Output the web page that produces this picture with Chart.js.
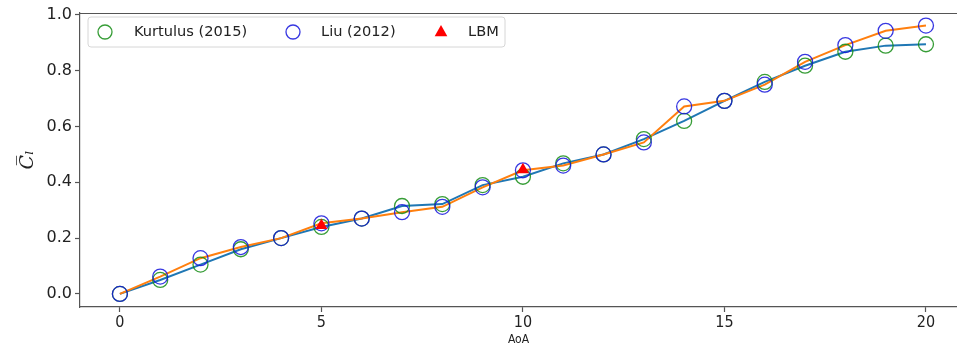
<!DOCTYPE html>
<html>
<head>
<meta charset="utf-8">
<script src="https://cdn.jsdelivr.net/npm/chart.js@4/dist/chart.umd.min.js"></script>
<style>
  html, body { margin: 0; padding: 0; background: #fff; overflow: hidden; }
  #wrap { width: 957px; height: 350px; position: relative; }
</style>
</head>
<body>
<div id="wrap"><canvas id="c"></canvas></div>
<script>
// ---- data ----
const aoa = [0, 1, 2, 3, 4, 5, 6, 7, 8, 9, 10, 11, 12, 13, 14, 15, 16, 17, 18, 19, 20];
const kurtulus = [0.0, 0.05, 0.105, 0.16, 0.20, 0.24, 0.27, 0.315, 0.322, 0.39, 0.42, 0.468, 0.50, 0.555, 0.62, 0.692, 0.76, 0.818, 0.868, 0.89, 0.895];
const liu = [0.0, 0.062, 0.128, 0.168, 0.20, 0.253, 0.27, 0.293, 0.312, 0.382, 0.443, 0.46, 0.50, 0.543, 0.672, 0.692, 0.75, 0.832, 0.892, 0.943, 0.962];
const lbmAoA = [10, 5];
const lbm = [0.445, 0.245];
const xTicks = [0, 5, 10, 15, 20];
const yTicks = [0.0, 0.2, 0.4, 0.6, 0.8, 1.0];
const seriesLabels = ['Kurtulus (2015)', 'Liu (2012)', 'LBM'];
const xTitle = 'AoA';
const yTitle = 'C\u0305\u2097';

const pts = (xs, ys) => xs.map((x, i) => ({x: x, y: ys[i]}));

const AXIS = '#555555';
const TXT = '#222222';

const legendPlugin = {
  id: 'insideLegend',
  afterDatasetsDraw(chart) {
    const ctx = chart.ctx;
    const bx = 88, by = 17, bw = 417, bh = 30, r = 3;
    ctx.save();
    ctx.beginPath();
    ctx.moveTo(bx + r, by);
    ctx.arcTo(bx + bw, by, bx + bw, by + bh, r);
    ctx.arcTo(bx + bw, by + bh, bx, by + bh, r);
    ctx.arcTo(bx, by + bh, bx, by, r);
    ctx.arcTo(bx, by, bx + bw, by, r);
    ctx.closePath();
    ctx.fillStyle = 'rgba(255,255,255,0.85)';
    ctx.fill();
    ctx.strokeStyle = '#d6d6d6';
    ctx.lineWidth = 1;
    ctx.stroke();
    const cy = by + bh / 2;
    const items = [
      {ds: 2, mx: 105, tx: 134},
      {ds: 3, mx: 293, tx: 321},
      {ds: 4, mx: 441, tx: 468}
    ];
    ctx.font = '14.6px "DejaVu Sans"';
    ctx.textBaseline = 'middle';
    ctx.textAlign = 'left';
    items.forEach(it => {
      const d = chart.data.datasets[it.ds];
      ctx.fillStyle = TXT;
      ctx.fillText(d.label, it.tx, cy);
      ctx.lineWidth = 1.3;
      if (d.pointStyle === 'triangle') {
        ctx.fillStyle = d.pointBackgroundColor;
        ctx.beginPath();
        const s = 7;
        ctx.moveTo(it.mx, cy - s);
        ctx.lineTo(it.mx + s * 0.9, cy + s * 0.6);
        ctx.lineTo(it.mx - s * 0.9, cy + s * 0.6);
        ctx.closePath();
        ctx.fill();
      } else {
        ctx.strokeStyle = d.pointBorderColor;
        ctx.beginPath();
        ctx.arc(it.mx, cy, 7, 0, Math.PI * 2);
        ctx.stroke();
      }
    });
    ctx.restore();
  }
};

const topBorder = {
  id: 'topBorder',
  afterDraw(chart) {
    const a = chart.chartArea, ctx = chart.ctx;
    ctx.save();
    ctx.strokeStyle = AXIS;
    ctx.lineWidth = 1.2;
    ctx.beginPath();
    ctx.moveTo(a.left, a.top + 0.5);
    ctx.lineTo(a.right, a.top + 0.5);
    ctx.stroke();
    ctx.restore();
  }
};

new Chart(document.getElementById('c'), {
  type: 'scatter',
  data: {
    datasets: [
      {label: 'k-line', data: pts(aoa, kurtulus), showLine: true, borderColor: '#1f77b4', borderWidth: 2, pointRadius: 0, order: 5},
      {label: 'l-line', data: pts(aoa, liu), showLine: true, borderColor: '#ff7f0e', borderWidth: 2, pointRadius: 0, order: 4},
      {label: seriesLabels[0], data: pts(aoa, kurtulus), showLine: false, pointStyle: 'circle', pointRadius: 7.5, pointBorderWidth: 1.3, pointBorderColor: 'rgba(20,140,20,0.85)', pointBackgroundColor: 'rgba(0,0,0,0)', order: 3},
      {label: seriesLabels[1], data: pts(aoa, liu), showLine: false, pointStyle: 'circle', pointRadius: 7.5, pointBorderWidth: 1.3, pointBorderColor: 'rgba(20,20,220,0.85)', pointBackgroundColor: 'rgba(0,0,0,0)', order: 2},
      {label: seriesLabels[2], data: pts(lbmAoA, lbm), showLine: false, pointStyle: 'triangle', pointRadius: 7, pointBorderWidth: 0, pointBorderColor: 'red', pointBackgroundColor: 'red', order: 1}
    ]
  },
  options: {
    responsive: true,
    maintainAspectRatio: false,
    animation: false,
    layout: {autoPadding: false, padding: {top: 13, right: 0, left: 0, bottom: 0}},
    plugins: {legend: {display: false}, tooltip: {enabled: false}},
    scales: {
      x: {
        type: 'linear',
        min: -0.99, max: 20.77,
        afterBuildTicks: s => { s.ticks = xTicks.map(v => ({value: v})); },
        afterFit: s => { s.height = 43; s.paddingLeft = 0; s.paddingRight = 0; },
        grid: {drawOnChartArea: false, drawTicks: true, tickLength: 5, tickColor: AXIS, tickWidth: 1.2},
        border: {color: AXIS, width: 1.2},
        ticks: {color: TXT, padding: 1, font: {family: '"DejaVu Sans Condensed", "DejaVu Sans"', size: 16}, maxRotation: 0},
        title: {display: true, text: xTitle, color: TXT, font: {family: '"DejaVu Sans Condensed", "DejaVu Sans"', size: 12}, padding: {top: 0, bottom: 3}}
      },
      y: {
        type: 'linear',
        min: -0.047, max: 1.007,
        afterBuildTicks: s => { s.ticks = yTicks.map(v => ({value: v})); },
        afterFit: s => { s.width = 80; s.paddingTop = 0; s.paddingBottom = 0; },
        grid: {drawOnChartArea: false, drawTicks: true, tickLength: 5, tickColor: AXIS, tickWidth: 1.2},
        border: {color: AXIS, width: 1.2},
        ticks: {color: TXT, padding: 3, font: {family: '"DejaVu Sans"', size: 16}, callback: v => v.toFixed(1)},
        title: {display: true, text: yTitle, color: TXT, font: {family: '"DejaVu Serif"', size: 19, style: 'italic'}, padding: {top: 17, bottom: 0}}
      }
    }
  },
  plugins: [legendPlugin, topBorder]
});
</script>
</body>
</html>
